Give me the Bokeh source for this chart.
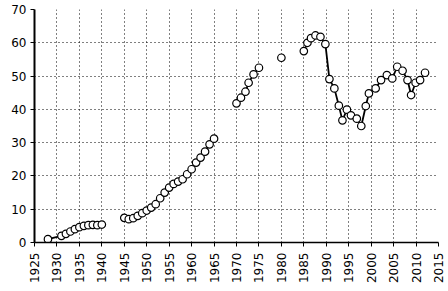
import math
from bokeh.plotting import figure
from bokeh.models import Range1d, SingleIntervalTicker
from bokeh.embed import file_html
from bokeh.resources import INLINE

# Segment 1: 1928-1940
years_a = [1928, 1931, 1932, 1933, 1934, 1935, 1936, 1937, 1938, 1939, 1940]
values_a = [1.0, 2.0, 2.6, 3.3, 4.0, 4.6, 5.0, 5.2, 5.3, 5.2, 5.4]

# Segment 2: 1945-1965
years_b = [1945, 1946, 1947, 1948, 1949, 1950, 1951, 1952, 1953, 1954, 1955,
           1956, 1957, 1958, 1959, 1960, 1961, 1962, 1963, 1964, 1965]
values_b = [7.4, 7.0, 7.3, 8.0, 8.8, 9.6, 10.5, 11.5, 13.3, 15.0, 16.5,
            17.6, 18.3, 19.0, 20.5, 22.0, 24.0, 25.5, 27.3, 29.5, 31.2]

# Segment 3: 1970-1975
years_c = [1970.0, 1971.0, 1972.0, 1972.7, 1973.8, 1975.0]
values_c = [41.8, 43.5, 45.3, 48.0, 50.5, 52.5]

# Segment 4: 1980
years_d = [1980.0]
values_d = [55.5]

# Segment 5: 1985-2012
years_e = [1985.0, 1985.8, 1986.6, 1987.6, 1988.7, 1989.8, 1990.7, 1991.8, 1992.8,
           1993.6, 1994.6, 1995.5, 1996.8, 1997.8, 1998.8, 1999.5, 2001.0, 2002.2,
           2003.5, 2004.7, 2005.8, 2007.0, 2008.1, 2008.9, 2009.9, 2010.9, 2012.0]
values_e = [57.5, 60.0, 61.4, 62.2, 61.8, 59.6, 49.1, 46.3, 41.1,
            36.7, 39.9, 38.2, 37.2, 35.0, 41.0, 44.8, 46.3, 48.8,
            50.3, 49.3, 52.8, 51.6, 48.8, 44.3, 48.0, 48.8, 51.0]

segments = [(years_a, values_a), (years_b, values_b), (years_c, values_c),
            (years_d, values_d), (years_e, values_e)]

p = figure(width=448, height=291, output_backend="svg", toolbar_location=None,
           x_range=Range1d(1925, 2015), y_range=Range1d(0, 70),
           min_border_left=34, min_border_right=10, min_border_top=9,
           min_border_bottom=49)
p.outline_line_color = None
p.background_fill_color = "white"
p.border_fill_color = "white"

# lines (broken between segments)
for xs, ys in segments:
    if len(xs) > 1:
        p.line(xs, ys, line_color="black", line_width=1.8)

all_x = [x for xs, _ in segments for x in xs]
all_y = [y for _, ys in segments for y in ys]
p.scatter(all_x, all_y, marker="circle", size=7.5, fill_color="white",
          line_color="black", line_width=1.2)

p.xaxis.ticker = SingleIntervalTicker(interval=5)
p.yaxis.ticker = SingleIntervalTicker(interval=10)
p.xaxis.major_label_orientation = math.pi / 2
p.xgrid.ticker = SingleIntervalTicker(interval=5)
p.ygrid.ticker = SingleIntervalTicker(interval=10)

for ax in (p.xaxis, p.yaxis):
    ax.major_label_text_font = "DejaVu Sans"
    ax.major_label_text_font_size = "12px"
    ax.major_label_text_color = "black"
    ax.axis_line_color = "black"
    ax.major_tick_line_color = "black"
    ax.minor_tick_line_color = None
    ax.major_tick_in = 0
    ax.major_tick_out = 4
    ax.major_label_standoff = 4

p.xaxis.major_label_standoff = 6
p.yaxis.axis_line_width = 2
p.xaxis.axis_line_width = 1.5

for g in (p.xgrid, p.ygrid):
    g.grid_line_color = "black"
    g.grid_line_dash = "1 3"
    g.grid_line_width = 1

open("out.html", "w").write(file_html(p, INLINE))
